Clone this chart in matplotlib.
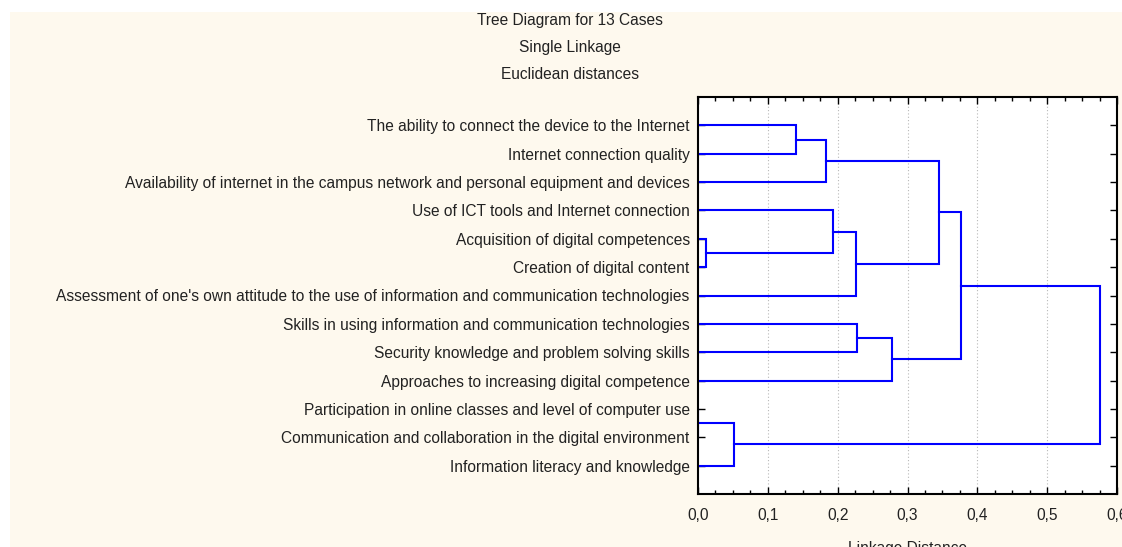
import numpy as np
import matplotlib
matplotlib.use("Agg")
import matplotlib.pyplot as plt
from matplotlib.ticker import MultipleLocator, FuncFormatter

# --- Data ---
leaf_labels = [
    "The ability to connect the device to the Internet",
    "Internet connection quality",
    "Availability of internet in the campus network and personal equipment and devices",
    "Use of ICT tools and Internet connection",
    "Acquisition of digital competences",
    "Creation of digital content",
    "Assessment of one's own attitude to the use of information and communication technologies",
    "Skills in using information and communication technologies",
    "Security knowledge and problem solving skills",
    "Approaches to increasing digital competence",
    "Participation in online classes and level of computer use",
    "Communication and collaboration in the digital environment",
    "Information literacy and knowledge",
]

# merges: (left cluster, right cluster, linkage distance); new cluster ids start at 13
merge_left = [0, 13, 4, 3, 16, 14, 7, 19, 18, 10, 22, 21]
merge_right = [1, 2, 5, 15, 6, 17, 8, 9, 20, 11, 12, 23]
merge_dist = [0.141, 0.184, 0.012, 0.194, 0.226, 0.345, 0.228, 0.278, 0.377, 0.0, 0.052, 0.575]

title_lines = ["Tree Diagram for 13 Cases", "Single Linkage", "Euclidean distances"]

plt.rcParams['font.family'] = ['Liberation Sans', 'DejaVu Sans']

cream = '#fef9ee'
txt = '#222222'
fs = 11.2
fig = plt.figure(figsize=(11.22, 5.47), dpi=100, facecolor='white')
fig.patches.append(plt.Rectangle((10 / 1122, 0), 1, 1 - 12 / 547, transform=fig.transFigure,
                                 facecolor=cream, edgecolor='none', zorder=-10))

ax = fig.add_axes([698 / 1122, 1 - 494 / 547, 419 / 1122, 397 / 547])
ax.set_facecolor('white')

# --- Dendrogram drawing ---
n = len(leaf_labels)
pos = {i: i + 1 for i in range(n)}
height = {i: 0.0 for i in range(n)}
for k, (a, b, d) in enumerate(zip(merge_left, merge_right, merge_dist)):
    cid = n + k
    ya, yb = pos[a], pos[b]
    ax.plot([height[a], d, d, height[b]], [ya, ya, yb, yb], color='#0000ff', lw=1.5,
            solid_joinstyle='miter', zorder=3)
    pos[cid] = (ya + yb) / 2
    height[cid] = d

ax.set_xlim(0, 0.6)
ax.set_ylim(14, 0)
ax.set_yticks(range(1, n + 1))
ax.set_yticklabels(leaf_labels, fontsize=fs, color=txt)
ax.xaxis.set_major_locator(MultipleLocator(0.1))
ax.xaxis.set_minor_locator(MultipleLocator(0.025))
ax.xaxis.set_major_formatter(FuncFormatter(lambda v, p: f"{v:.1f}".replace('.', ',')))
ax.tick_params(axis='x', which='both', direction='in', top=True, labelsize=fs,
               labelcolor=txt, pad=10)
ax.tick_params(axis='x', which='major', length=5, width=1)
ax.tick_params(axis='x', which='minor', length=3, width=1)
ax.tick_params(axis='y', direction='in', right=True, length=5, width=1, pad=6)

for v in np.arange(0.1, 0.55, 0.1):
    ax.axvline(v, color='#b8b8b8', lw=0.8, ls=(0, (1, 2)), zorder=1)

for s in ax.spines.values():
    s.set_linewidth(1.5)
    s.set_zorder(4)

ax.set_xlabel("Linkage Distance", fontsize=fs, color=txt, labelpad=13)

for i, t in enumerate(title_lines):
    fig.text(570 / 1122, 1 - (21 + 26.7 * i) / 547, t, ha='center', va='center',
             fontsize=fs, color=txt)

fig.savefig("out.png", dpi=100, facecolor=fig.get_facecolor())
